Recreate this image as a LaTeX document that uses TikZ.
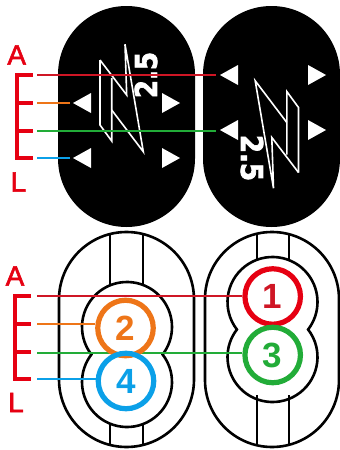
\documentclass[tikz,border=0pt]{standalone}
\usepackage{fontspec}
\setmainfont{Liberation Sans}
\newfontfamily\blockfont[FakeBold=2.5]{DejaVu Sans Bold}
\newfontfamily\letterfont[FakeBold=2]{Liberation Sans}
\definecolor{bred}{HTML}{E60012}
\definecolor{lred}{HTML}{CF1625}
\definecolor{lorange}{HTML}{EE7518}
\definecolor{lgreen}{HTML}{22AC38}
\definecolor{lblue}{HTML}{0BA0E8}
\pgfdeclarelayer{under}
\pgfdeclarelayer{lines}
\pgfsetlayers{under,lines,main}
\tikzset{
  brk/.style={draw=bred,line width=3.3pt},
  conn/.style={line width=2.8pt},
  connb/.style={line width=2.5pt},
  letter/.style={text=bred,inner sep=0pt,font=\letterfont\fontsize{28}{28}\selectfont},
  tri/.style={fill=white,draw=none},
  logo/.style={draw=white,line width=1.6pt,line join=miter},
  outline/.style={draw=black,line width=2.6pt},
  ring/.style={circle,draw=#1,text=#1,line width=5.2pt,fill=none,minimum size=55.5pt,inner sep=0pt,font=\bfseries\fontsize{35}{35}\selectfont},
  dec/.style={text=white,inner sep=0pt}
}
\newcommand{\Stad}[5]{% x1 x2 ytop ybot style
  \pgfmathsetmacro{\rr}{(#2-#1)/2}
  \path[#5] (#1,#3+\rr) arc[start angle=180,end angle=360,radius=\rr] -- (#2,#4-\rr) arc[start angle=0,end angle=180,radius=\rr] -- cycle;
}
\newcommand{\Blob}[3]{% cx cy1 cy2
  \draw[outline] (#1-35.6,#2+27.5) arc[start angle=142.3,end angle=397.7,radius=45] arc[start angle=-37.7,end angle=217.7,radius=45] -- cycle;
}
\newcommand{\TriL}[2]{\fill[tri] (#1,#2) -- (#1+18,#2-10) -- (#1+18,#2+10) -- cycle;}
\newcommand{\TriR}[2]{\fill[tri] (#1,#2-10) -- (#1+18,#2) -- (#1,#2+10) -- cycle;}
\newcommand{\Bolt}{%
  \draw[logo] (100,60) -- (126.7,95) -- (125,44.3) -- (143.3,151.7) -- (111.7,110);
  \draw[logo] (111.7,78) -- (111.7,141) -- (100,125) -- (100,60);
}
\begin{document}
\begin{tikzpicture}[x=1pt,y=1pt,yscale=-1]
\useasboundingbox (0,0) rectangle (340,450);
\begin{pgfonlayer}{under}
\fill[white] (0,0) rectangle (340,450);
\Stad{58}{195}{6}{227}{fill=black}
\Stad{203}{340}{6}{227}{fill=black}
\TriL{73}{103} \TriL{73}{158} \TriR{162}{103} \TriR{162}{158}
\TriL{220}{75} \TriL{220}{130} \TriR{308}{75} \TriR{308}{130}
\Bolt
\begin{scope}[shift={(398.5,232.5)},xscale=-1,yscale=-1]
\Bolt
\end{scope}
\node[dec,rotate=90] (decl) at (146,75) {\scalebox{0.87}[1]{\blockfont\fontsize{30}{30}\selectfont 2.5}};
\node[dec,rotate=-90] (decr) at (252,158) {\scalebox{0.87}[1]{\blockfont\fontsize{30}{30}\selectfont 2.5}};
\Stad{59}{194}{232}{447}{outline}
\Stad{205}{339}{232}{447}{outline}
\Blob{127}{327}{382}
\Blob{272.5}{302}{353}
\draw[outline] (110,234) -- (110,285);
\draw[outline] (143,234) -- (143,285);
\draw[outline] (110,424) -- (110,445);
\draw[outline] (143,424) -- (143,445);
\draw[outline] (257,234) -- (257,260);
\draw[outline] (289,234) -- (289,260);
\draw[outline] (257,395) -- (257,445);
\draw[outline] (289,395) -- (289,445);
\end{pgfonlayer}
% top bracket
\coordinate (ta) at (33,75); \coordinate (tb) at (33,103); \coordinate (tc) at (33,131); \coordinate (td) at (33,158);
\draw[brk] (ta) -- (17,75) -- (17,158) -- (td);
\draw[brk] (17,103) -- (tb);
\draw[brk] (17,131) -- (tc);
\node[letter] (tA) at (16.7,55) {A};
\node[letter] (tL) at (18.5,182) {L};
\coordinate (tas) at (37,75); \coordinate (tae) at (216,75);
\coordinate (tbs) at (37,103); \coordinate (tbe) at (70,103);
\coordinate (tcs) at (37,131); \coordinate (tce) at (216,131);
\coordinate (tds) at (37,158); \coordinate (tde) at (70,158);
\draw[conn,lred] (tas) -- (tae);
\draw[conn,lorange] (tbs) -- (tbe);
\draw[conn,lgreen] (tcs) -- (tce);
\draw[conn,lblue] (tds) -- (tde);
% bottom bracket
\coordinate (ba) at (31,296); \coordinate (bb) at (31,324); \coordinate (bc) at (31,352); \coordinate (bd) at (31,379);
\draw[brk] (ba) -- (15,296) -- (15,379) -- (bd);
\draw[brk] (15,324) -- (bb);
\draw[brk] (15,352) -- (bc);
\node[letter] (bA) at (15,276) {A};
\node[letter] (bL) at (16,402.5) {L};
\coordinate (bas) at (37,296); \coordinate (bbs) at (37,324); \coordinate (bcs) at (37,353); \coordinate (bds) at (37,379);
% rings
\node[ring=lorange] (r2) at (125.5,328) {2};
\node[ring=bred,text=lred] (r1) at (272.7,296.5) {1};
\node[ring=lblue] (r4) at (126,381) {4};
\node[ring=lgreen] (r3) at (272.7,355) {3};
\begin{pgfonlayer}{lines}
\draw[connb,lred] (bas) -- (bas -| r1.west);
\draw[connb,lorange] (bbs) -- (bbs -| r2.west);
\draw[connb,lgreen] (bcs) -- (bcs -| r3.west);
\draw[connb,lblue] (bds) -- (bds -| r4.west);
\end{pgfonlayer}
\end{tikzpicture}
\end{document}
